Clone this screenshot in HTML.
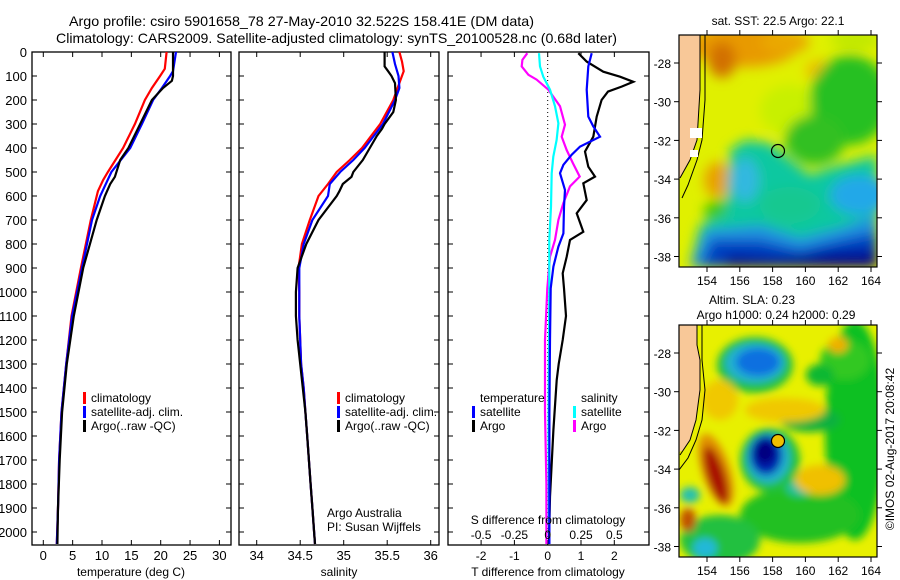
<!DOCTYPE html>
<html><head><meta charset="utf-8">
<style>
html,body{margin:0;padding:0;background:#fff;}
svg{display:block;font-family:"Liberation Sans",Arial,sans-serif;}
text{fill:#000;}
</style></head>
<body>
<svg id="fig" width="900" height="580" viewBox="0 0 900 580" xmlns="http://www.w3.org/2000/svg">
<defs>
  <filter id="blur1" x="-20%" y="-20%" width="140%" height="140%"><feGaussianBlur stdDeviation="6"/></filter>
  <filter id="blur2" x="-20%" y="-20%" width="140%" height="140%"><feGaussianBlur stdDeviation="4"/></filter>
  <clipPath id="clipTop"><rect x="679" y="35" width="198" height="232"/></clipPath>
  <clipPath id="clipBot"><rect x="679" y="325" width="198" height="232"/></clipPath>
</defs>
<text x="69" y="26" font-size="14" textLength="465" lengthAdjust="spacingAndGlyphs">Argo profile: csiro 5901658_78 27-May-2010 32.522S 158.41E (DM data)</text>
<text x="56" y="43" font-size="14" textLength="561" lengthAdjust="spacingAndGlyphs">Climatology: CARS2009. Satellite-adjusted climatology: synTS_20100528.nc (0.68d later)</text>

<!-- Top map: SST -->
<g>
<text x="778" y="25" font-size="12" text-anchor="middle">sat. SST: 22.5 Argo: 22.1</text>
<g clip-path="url(#clipTop)">
  <rect x="679" y="35" width="198" height="232" fill="#e0f000"/>
  <g filter="url(#blur1)">
    <ellipse cx="745" cy="45" rx="55" ry="22" fill="#e89a00"/>
    <ellipse cx="722" cy="60" rx="14" ry="18" fill="#d27000"/>
    <ellipse cx="785" cy="42" rx="25" ry="12" fill="#eaa800"/>
    <ellipse cx="820" cy="70" rx="15" ry="10" fill="#f0c000"/>
    <ellipse cx="790" cy="110" rx="30" ry="25" fill="#c8f000"/>
    <ellipse cx="718" cy="180" rx="14" ry="18" fill="#e8a000"/>
    <ellipse cx="718" cy="212" rx="14" ry="12" fill="#40c800"/>
    <ellipse cx="850" cy="100" rx="40" ry="45" fill="#28c020"/>
    <ellipse cx="815" cy="140" rx="30" ry="25" fill="#30c020"/>
    <ellipse cx="855" cy="40" rx="25" ry="10" fill="#c0e800"/>
    <polygon points="730,150 745,140 770,143 790,160 810,175 830,168 877,155 877,267 690,267 700,225 725,215" fill="#10c8a0"/>
    <ellipse cx="745" cy="180" rx="14" ry="22" fill="#30b8e0"/>
    <ellipse cx="790" cy="205" rx="30" ry="18" fill="#18c890"/>
    <ellipse cx="860" cy="195" rx="30" ry="20" fill="#20a8e8"/>
    <polygon points="690,267 705,230 760,225 800,238 840,228 877,215 877,267" fill="#2090e0"/>
    <polygon points="700,267 712,240 760,240 800,250 840,240 877,232 877,267" fill="#0040c0"/>
    <polygon points="720,267 730,255 780,258 830,252 877,250 877,267" fill="#000090"/>
  </g>
  <polygon points="679,35 700,35 700,90 697,140 693,150 690,160 682,175 679,180" fill="#f8c898"/>
  <polyline points="700,35 700,90 697,140 690,160 680,178" fill="none" stroke="#000" stroke-width="1"/>
  <polyline points="705,35 705,100 702,140 697,160 688,185 682,198" fill="none" stroke="#000" stroke-width="1"/>
  <rect x="690" y="128" width="12" height="10" fill="#fff"/>
  <rect x="690" y="150" width="8" height="7" fill="#fff"/>
  <circle cx="778" cy="151" r="6.5" fill="none" stroke="#000" stroke-width="1.2"/>
</g>
<rect x="679" y="35" width="198" height="232" fill="none" stroke="#000" stroke-width="1.2"/>
<g id="topMapAxes"></g>
</g>

<!-- Bottom map: SLA -->
<g>
<text x="752" y="304" font-size="12" text-anchor="middle">Altim. SLA: 0.23</text>
<text x="776" y="319" font-size="12" text-anchor="middle">Argo h1000: 0.24 h2000: 0.29</text>
<g clip-path="url(#clipBot)">
  <rect x="679" y="325" width="198" height="232" fill="#e8f000"/>
  <g filter="url(#blur2)">
    <ellipse cx="855" cy="430" rx="30" ry="110" fill="#10c020"/>
    <ellipse cx="845" cy="360" rx="25" ry="20" fill="#30c820"/>
    <ellipse cx="820" cy="375" rx="14" ry="11" fill="#10b830"/>
    <ellipse cx="810" cy="420" rx="30" ry="12" fill="#10b040"/>
    <ellipse cx="800" cy="515" rx="60" ry="28" fill="#20c020"/>
    <ellipse cx="720" cy="540" rx="40" ry="25" fill="#20c040"/>
    <ellipse cx="705" cy="548" rx="12" ry="10" fill="#20b8d8"/>
    <ellipse cx="690" cy="495" rx="10" ry="8" fill="#20c0b0"/>
    <ellipse cx="755" cy="365" rx="38" ry="28" fill="#20c040"/>
    <ellipse cx="755" cy="363" rx="30" ry="20" fill="#20b0d0"/>
    <ellipse cx="758" cy="362" rx="22" ry="14" fill="#1070e0"/>
    <ellipse cx="770" cy="460" rx="30" ry="32" fill="#20c040"/>
    <ellipse cx="768" cy="458" rx="22" ry="25" fill="#20b0d0"/>
    <ellipse cx="766" cy="455" rx="16" ry="20" fill="#0020b0"/>
    <ellipse cx="765" cy="452" rx="10" ry="12" fill="#000080"/>
    <ellipse cx="800" cy="488" rx="14" ry="8" fill="#20c0a0"/>
    <ellipse cx="716" cy="470" rx="14" ry="38" transform="rotate(-18 716 470)" fill="#e09000"/>
    <ellipse cx="716" cy="475" rx="9" ry="30" transform="rotate(-18 716 475)" fill="#a81000"/>
    <ellipse cx="688" cy="520" rx="8" ry="12" fill="#c05000"/>
    <ellipse cx="785" cy="410" rx="40" ry="12" fill="#f0c800"/>
    <ellipse cx="720" cy="400" rx="18" ry="20" fill="#f0c800"/>
    <ellipse cx="820" cy="480" rx="25" ry="15" fill="#f0c000"/>
    <ellipse cx="838" cy="345" rx="10" ry="8" fill="#f0b000"/>
  </g>
  <polygon points="679,325 697,325 697,345 700,360 700,390 696,420 690,440 684,450 679,452" fill="#f8c898"/>
  <polyline points="697,325 697,345 700,360 700,390 696,420 690,440 680,455" fill="none" stroke="#000" stroke-width="1"/>
  <polyline points="702,325 702,360 705,390 702,420 696,440 688,458 679,470" fill="none" stroke="#000" stroke-width="1"/>
  <circle cx="778" cy="441" r="6.5" fill="#f0c000" stroke="#000" stroke-width="1.2"/>
</g>
<rect x="679" y="325" width="198" height="232" fill="none" stroke="#000" stroke-width="1.2"/>
<g id="botMapAxes"></g>
<text transform="translate(894,449) rotate(-90)" font-size="12" text-anchor="middle">©IMOS 02-Aug-2017 20:08:42</text>
</g>

<g id="panels"></g>
</svg>

<script>
// ---- data ----
const tempClimDepth = [0,70,100,150,200,300,400,500,533,580,700,900,1100,1300,1500,1700,1900,2050];
const tempClim      = [21.0,20.7,19.9,18.5,17.3,15.6,13.6,11.0,10.2,9.3,8.1,6.4,4.8,3.9,3.1,2.7,2.5,2.3];
const tempSatDepth  = [0,80,100,150,200,300,400,500,600,700,900,1100,1300,1500,1700,1900,2050];
const tempSat       = [22.6,22.1,21.6,20.2,18.7,16.8,14.8,11.6,9.7,8.3,6.6,4.9,3.9,3.1,2.7,2.5,2.3];
const tempArgoDepth = [0,100,120,150,200,300,400,450,520,550,600,700,900,1100,1300,1500,1700,1900,2050];
const tempArgo      = [22.1,22.1,21.9,20.4,18.5,16.5,14.5,13.1,12.2,11.4,10.5,9.1,6.8,5.2,4.0,3.2,2.8,2.5,2.4];

const salClimDepth = [0,40,80,120,200,300,400,450,500,550,600,700,800,900,1000,1100,1200,1300,1400,1500,1600,1700,1800,1900,2000,2050];
const salClim      = [35.64,35.67,35.69,35.65,35.57,35.42,35.21,35.07,34.92,34.82,34.71,34.61,34.52,34.48,34.49,34.49,34.50,34.51,34.54,34.56,34.58,34.60,34.62,34.64,34.66,34.67];
const salSatDepth  = [0,50,100,150,200,300,400,450,500,550,600,700,800,900,1000,1100,1200,1300,1400,1500,1600,1700,1800,1900,2000,2050];
const salSat       = [35.56,35.59,35.63,35.64,35.59,35.45,35.24,35.11,34.96,34.84,34.82,34.64,34.54,34.49,34.49,34.49,34.50,34.51,34.54,34.56,34.58,34.60,34.62,34.64,34.66,34.67];
const salArgoDepth = [0,60,80,100,130,200,250,300,320,350,400,450,500,520,550,580,600,700,800,900,1000,1100,1200,1300,1400,1500,1600,1700,1800,1900,2000,2050];
const salArgo      = [35.47,35.47,35.51,35.55,35.59,35.60,35.57,35.47,35.44,35.38,35.30,35.22,35.11,35.09,34.99,34.95,34.92,34.71,34.57,34.47,34.45,34.45,34.47,34.50,34.53,34.56,34.58,34.60,34.62,34.64,34.66,34.67];

const dTSatDepth  = [5,60,157,269,310,353,394,428,470,505,575,644,756,811,894,985,1200,1500,1800,2050];
const dTSat       = [1.32,1.22,1.17,1.22,1.37,1.57,0.97,0.72,0.47,0.37,0.52,0.49,0.47,0.32,0.17,0.09,0.07,0.05,0.05,0.05];
const dTArgoDepth = [5,40,82,103,124,144,165,200,269,353,415,478,519,547,617,672,749,783,853,922,985,1100,1200,1300,1367,1575,1853,2050];
const dTArgo      = [0.92,1.17,1.67,2.17,2.57,2.22,1.81,1.62,1.47,1.37,1.12,1.22,1.42,1.07,1.17,0.87,1.07,0.67,0.57,0.45,0.49,0.55,0.45,0.33,0.27,0.17,0.07,0.04];
const dSSatDepth  = [5,60,103,157,226,297,367,436,505,644,783,985,1300,1600,2050];
const dSSat       = [-0.065,-0.058,-0.033,0.017,0.055,0.08,0.067,0.042,0.03,0.025,0.012,0.012,0.008,0.006,0.01];
const dSArgoDepth = [5,33,60,95,115,157,226,303,353,408,464,519,560,630,700,783,853,985,1200,1500,1800,2050];
const dSArgo      = [-0.153,-0.19,-0.195,-0.145,-0.083,0.005,0.092,0.13,0.105,0.142,0.19,0.24,0.167,0.117,0.08,0.055,0.017,-0.003,-0.02,-0.02,-0.01,-0.01];

const depthTicks = [0,100,200,300,400,500,600,700,800,900,1000,1100,1200,1300,1400,1500,1600,1700,1800,1900,2000];
const tempTicks = [0,5,10,15,20,25,30];
const salTicks = [34,34.5,35,35.5,36];
const salTickLabels = ["34","34.5","35","35.5","36"];
const dTTicks = [-2,-1,0,1,2];
const dSTicks = [-0.5,-0.25,0,0.25,0.5];
const dSTickLabels = ["-0.5","-0.25","0","0.25","0.5"];
const lonTicks = [154,156,158,160,162,164];
const latTicks = [-28,-30,-32,-34,-36,-38];

// ---- scales ----
const yD = d => 52 + d*0.24;
const xT = t => 43.3 + 5.87*t;
const xS = s => 256.7 + 87*(s-34);
const xdT = t => 547.7 + 33.3*t;
const xdS = s => 547.7 + 133.3*s;
const NS = "http://www.w3.org/2000/svg";
const root = document.getElementById('panels');

function el(tag, attrs, parent){
  const e = document.createElementNS(NS, tag);
  for (const k in attrs) e.setAttribute(k, attrs[k]);
  (parent||root).appendChild(e);
  return e;
}
function txt(x,y,s,anchor,size,parent){
  const t = el('text',{x:x,y:y,'font-size':size||13,'text-anchor':anchor||'middle'},parent);
  t.textContent = s;
  return t;
}
function line(depths, vals, xf, color, name){
  const pts = depths.map((d,i)=> xf(vals[i]).toFixed(1)+','+yD(d).toFixed(1)).join(' ');
  const p = el('polyline',{points:pts,fill:'none',stroke:color,'stroke-width':2.2,'stroke-linejoin':'miter'});
  
  
}
function frame(x0,x1,name){
  const r = el('rect',{x:x0,y:52,width:x1-x0,height:493,fill:'none',stroke:'#000','stroke-width':1.3});
  
  
  depthTicks.forEach(d=>{
    el('line',{x1:x0,x2:x0+5,y1:yD(d),y2:yD(d),stroke:'#000','stroke-width':1});
    el('line',{x1:x1-5,x2:x1,y1:yD(d),y2:yD(d),stroke:'#000','stroke-width':1});
  });
}
function xticks(vals, xf, top, bottom){
  vals.forEach(v=>{
    if (bottom) el('line',{x1:xf(v),x2:xf(v),y1:540,y2:545,stroke:'#000','stroke-width':1});
    if (top) el('line',{x1:xf(v),x2:xf(v),y1:52,y2:57,stroke:'#000','stroke-width':1});
  });
}
function legendItem(x,y,color,label,name){
  const g = el('g',{});
  
  
  el('rect',{x:x,y:y-10,width:3,height:12,fill:color},g);
  txt(x+8,y,label,'start',12,g);
}

// Panel 1 temperature
frame(32,231,'temperature-panel');
xticks(tempTicks,xT,true,true);
tempTicks.forEach(v=>txt(xT(v),560,String(v)));
depthTicks.forEach(d=>txt(27,yD(d)+5,String(d),'end'));
txt(131,576,'temperature (deg C)','middle',12);
line(tempClimDepth,tempClim,xT,'#ff0000','temp-climatology-line');
line(tempSatDepth,tempSat,xT,'#0000ff','temp-satellite-line');
line(tempArgoDepth,tempArgo,xT,'#000000','temp-argo-line');
legendItem(83,402,'#ff0000','climatology','legend-climatology');
legendItem(83,416,'#0000ff','satellite-adj. clim.','legend-satellite-adj');
legendItem(83,430,'#000000','Argo(..raw -QC)','legend-argo');

// Panel 2 salinity
frame(239,439,'salinity-panel');
xticks(salTicks,xS,true,true);
salTicks.forEach((v,i)=>txt(xS(v),560,salTickLabels[i]));
txt(339,576,'salinity','middle',12);
line(salClimDepth,salClim,xS,'#ff0000','sal-climatology-line');
line(salSatDepth,salSat,xS,'#0000ff','sal-satellite-line');
line(salArgoDepth,salArgo,xS,'#000000','sal-argo-line');
legendItem(337,402,'#ff0000','climatology','legend2-climatology');
legendItem(337,416,'#0000ff','satellite-adj. clim.','legend2-satellite-adj');
legendItem(337,430,'#000000','Argo(..raw -QC)','legend2-argo');
txt(327,517,'Argo Australia','start',12);
txt(327,531,'PI: Susan Wijffels','start',12);

// Panel 3 differences
frame(448,649,'difference-panel');
xticks(dTTicks,xdT,false,true);
xticks(dSTicks,xdS,true,false);
el('line',{x1:xdT(0),x2:xdT(0),y1:52,y2:545,stroke:'#000','stroke-width':1,'stroke-dasharray':'1,3'});
line(dSArgoDepth,dSArgo,xdS,'#ff00ff','sal-diff-argo-line');
line(dSSatDepth,dSSat,xdS,'#00ffff','sal-diff-satellite-line');
line(dTArgoDepth,dTArgo,xdT,'#000000','temp-diff-argo-line');
line(dTSatDepth,dTSat,xdT,'#0000ff','temp-diff-satellite-line');
txt(480,402,'temperature','start',12);
legendItem(472,416,'#0000ff','satellite','legend3-temp-satellite');
legendItem(472,430,'#000000','Argo','legend3-temp-argo');
txt(581,402,'salinity','start',12);
legendItem(573,416,'#00ffff','satellite','legend3-sal-satellite');
legendItem(573,430,'#ff00ff','Argo','legend3-sal-argo');
txt(548,524,'S difference from climatology','middle',12);
dSTicks.forEach((v,i)=>txt(xdS(v),539,dSTickLabels[i],'middle',12));
dTTicks.forEach(v=>txt(xdT(v),560,String(v),'middle',12));
txt(548,576,'T difference from climatology','middle',12);

// Map axes
function mapAxes(gid, yTop, lat28){
  const g = document.getElementById(gid);
  const lonX = lon => 707 + (lon-154)*16.4;
  const latY = lat => lat28 + (-28-lat)*19.35;
  lonTicks.forEach(l=>{
    el('line',{x1:lonX(l),x2:lonX(l),y1:yTop-5,y2:yTop,stroke:'#000','stroke-width':1},g);
    el('line',{x1:lonX(l),x2:lonX(l),y1:yTop+232,y2:yTop+237,stroke:'#000','stroke-width':1},g);
    txt(lonX(l),yTop+250,String(l),'middle',12,g);
  });
  latTicks.forEach(l=>{
    el('line',{x1:674,x2:679,y1:latY(l),y2:latY(l),stroke:'#000','stroke-width':1},g);
    el('line',{x1:877,x2:882,y1:latY(l),y2:latY(l),stroke:'#000','stroke-width':1},g);
    txt(671,latY(l)+5,String(l),'end',12,g);
  });
}
mapAxes('topMapAxes',35,63);
mapAxes('botMapAxes',325,353);
</script>
</body></html>
